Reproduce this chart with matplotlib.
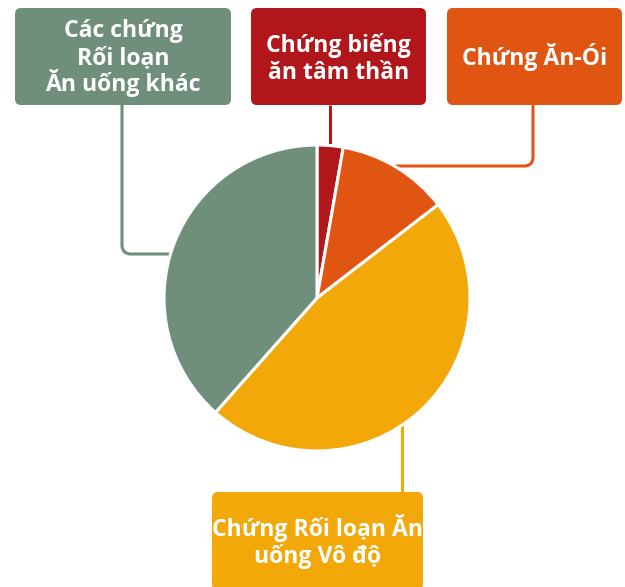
import matplotlib as mpl
import matplotlib.pyplot as plt
from matplotlib.patches import FancyBboxPatch, PathPatch
from matplotlib.path import Path

mpl.rcParams.update({"font.family": ["Open Sans", "DejaVu Sans"]})

# slice data, clockwise from 12 o'clock
labels = ["Chứng biếng\năn tâm thần", "Chứng Ăn-Ói",
          "Chứng Rối loạn Ăn\nuống Vô độ", "Các chứng\nRối loạn\nĂn uống khác"]
values = [2.75, 11.8, 47.0, 38.45]
colors = ["#b0161a", "#e15513", "#f3a80a", "#6f8f7c"]

W, H = 625, 587
fig = plt.figure(figsize=(W / 100, H / 100), dpi=100)
ax = fig.add_axes([0, 0, 1, 1])

def Y(py):
    # pixel row (from top) -> data y
    return H - py

CX, CY, R = 317, 298, 153

ax.pie(values, colors=colors, startangle=90, counterclock=False,
       center=(CX, Y(CY)), radius=R, frame=True,
       wedgeprops=dict(edgecolor="white", linewidth=2.2, zorder=3))

# label boxes: (x0, y0, x1, y1) in pixels, one per slice
boxes = [(251, 8, 426, 105), (447, 8, 622, 105),
         (212, 492, 423, 590), (15, 8, 231, 105)]
first_baseline = [52, 65, 536, 37]
LINE_STEP = 27
# connectors as pixel polylines (corner gets rounded)
links = [
    [(330, 105), (330, 146)],
    [(533, 105), (533, 166), (394, 166)],
    [(402, 424), (402, 493)],
    [(122, 105), (122, 254), (169, 254)],
]

def connector(pts, color, r=9):
    if len(pts) == 2:
        verts = [(x, Y(y)) for x, y in pts]
        codes = [Path.MOVETO, Path.LINETO]
    else:
        (x0, y0), (x1, y1), (x2, y2) = pts
        sy = 1 if y1 > y0 else -1
        sx = 1 if x2 > x1 else -1
        verts = [(x0, Y(y0)), (x1, Y(y1 - sy * r)), (x1, Y(y1)),
                 (x1 + sx * r, Y(y1)), (x2, Y(y2))]
        codes = [Path.MOVETO, Path.LINETO, Path.CURVE3, Path.CURVE3, Path.LINETO]
    ax.add_patch(PathPatch(Path(verts, codes), fill=False, edgecolor=color,
                           lw=2.2, capstyle="butt", zorder=1))

for lab, col, (x0, y0, x1, y1), base, pts in zip(labels, colors, boxes,
                                                 first_baseline, links):
    connector(pts, col)
    ax.add_patch(FancyBboxPatch((x0 + 6, Y(y1) + 6), (x1 - x0) - 12, (y1 - y0) - 12,
                                boxstyle="round,pad=6", facecolor=col,
                                edgecolor="none", zorder=4))
    for i, line in enumerate(lab.split("\n")):
        ax.text((x0 + x1) / 2, Y(base + i * LINE_STEP), line, ha="center",
                va="baseline", color="white", fontsize=16.6, fontweight="bold",
                zorder=5)

ax.set_xlim(0, W)
ax.set_ylim(0, H)
ax.set_aspect("equal")
ax.axis("off")

fig.savefig("out.png", dpi=100, facecolor="white")
